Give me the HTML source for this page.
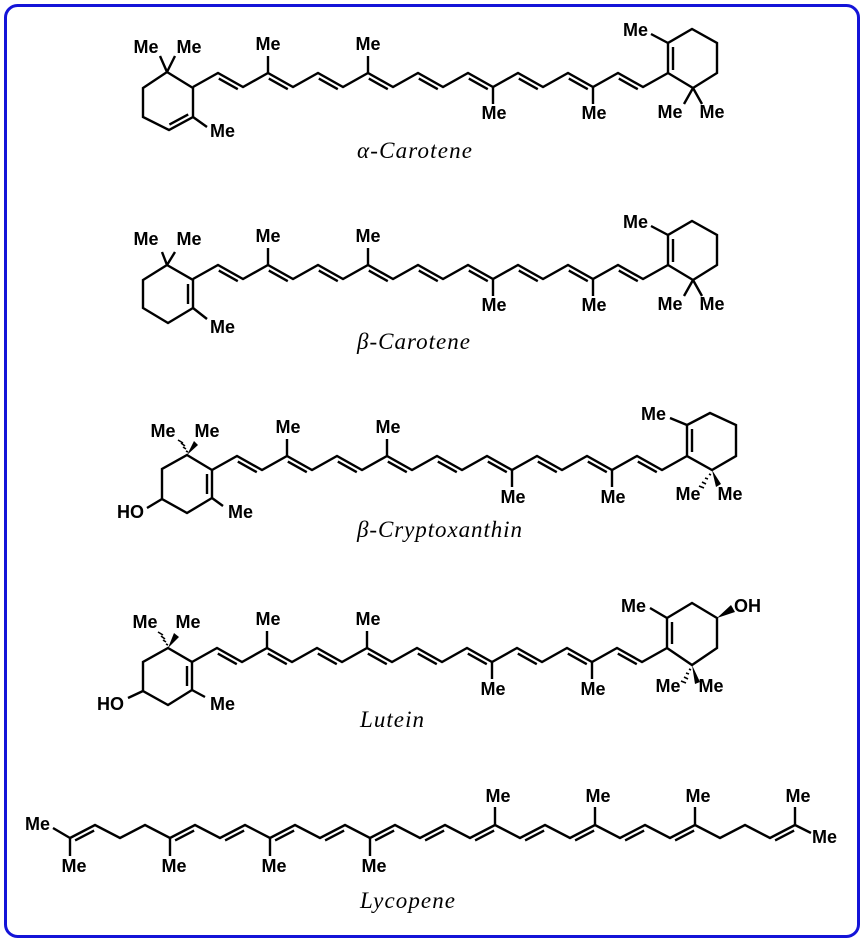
<!DOCTYPE html>
<html><head><meta charset="utf-8"><style>
html,body{margin:0;padding:0;background:#fff;}
svg{display:block;}
.b{fill:none;stroke:#000;stroke-width:2.4;stroke-linejoin:miter;stroke-linecap:butt;}
.t{font-family:"Liberation Sans",Arial,sans-serif;font-weight:bold;font-size:18px;fill:#000;}
.c{font-family:"Liberation Serif","DejaVu Serif",serif;font-style:italic;font-size:23px;fill:#000;}
</style></head><body>
<svg width="864" height="942" viewBox="0 0 864 942" xmlns="http://www.w3.org/2000/svg">
<defs>
<g id="chain">
<polyline class="b" points="0,14 25,0 50,14 75,0 100,14 125,0 150,14 175,0 200,14 225,0 250,14 275,0 300,14 325,0 350,14 375,0 400,14 425,0 450,14 475,0"/>
<path class="b" d="M25.8 5.6L44.8 16.2M75.8 5.6L94.8 16.2M125.8 5.6L144.8 16.2M175.8 5.6L194.8 16.2M225.8 5.6L244.8 16.2M275.8 5.6L294.8 16.2M325.8 5.6L344.8 16.2M375.8 5.6L394.8 16.2M425.8 5.6L444.8 16.2"/>
<path class="b" d="M75 0V-17M175 0V-17M300 14V31M400 14V31"/>
</g>
</defs>
<rect x="5.5" y="5.5" width="853" height="931" rx="12" ry="12" fill="none" stroke="#1414d8" stroke-width="3"/>

<!-- alpha-carotene -->
<use href="#chain" transform="translate(193,73)"/>
<polygon class="b" points="167,72 193,88 193,117 169,130 143,117 143,88"/>
<path class="b" d="M188.2 114.4L169.4 124.6M193 117L207 127M167 72L160 56M167 72L175 56"/>
<polygon class="b" points="668,73 668,43 692,29 717,43 717,73 693,88"/>
<path class="b" d="M673 47V70M668 43L651 34M693 88L684 104M693 88L702 104"/>
<g class="t" text-anchor="middle">
<text x="146" y="53">Me</text><text x="189" y="53">Me</text>
<text x="268" y="50">Me</text><text x="368" y="50">Me</text>
<text x="494" y="119">Me</text><text x="594" y="119">Me</text>
<text x="670" y="118">Me</text><text x="712" y="118">Me</text>
</g>
<text class="t" x="210" y="137">Me</text>
<text class="t" x="648" y="36" text-anchor="end">Me</text>
<text class="c" x="357" y="158" textLength="115">α-Carotene</text>

<!-- beta-carotene -->
<use href="#chain" transform="translate(193,265)"/>
<polygon class="b" points="167,265 193,280 193,308 168,323 143,308 143,280"/>
<path class="b" d="M188 284V304M193 308L207 319M167 265L162 252M167 265L175 252"/>
<polygon class="b" points="668,265 668,235 692,221 717,235 717,265 693,280"/>
<path class="b" d="M673 239V262M668 235L651 226M693 280L684 296M693 280L702 296"/>
<g class="t" text-anchor="middle">
<text x="146" y="245">Me</text><text x="189" y="245">Me</text>
<text x="268" y="242">Me</text><text x="368" y="242">Me</text>
<text x="494" y="311">Me</text><text x="594" y="311">Me</text>
<text x="670" y="310">Me</text><text x="712" y="310">Me</text>
</g>
<text class="t" x="210" y="333">Me</text>
<text class="t" x="648" y="228" text-anchor="end">Me</text>
<text class="c" x="357" y="349" textLength="113">β-Carotene</text>

<!-- beta-cryptoxanthin -->
<use href="#chain" transform="translate(212,456)"/>
<polygon class="b" points="187,455 212,470 212,498 187,513 162,499 162,469"/>
<path class="b" d="M207 474V494M212 498L223 506M162 499L147 508"/>
<path class="b" style="stroke-width:1.6" d="M186 451L188 452M183 447L186 449M181 443L185 446M178 440L183 443"/>
<polygon points="187,455 194,441 198,445" fill="#000"/>
<polygon class="b" points="687,456 687,425 710,413 736,425 736,456 712,470"/>
<path class="b" d="M692 429V452M687 425L670 418"/>
<path class="b" style="stroke-width:1.6" d="M709 474L711 475M705 478L708 479M702 482L706 484M699 486L704 488"/>
<polygon points="712,470 716,487 721,484" fill="#000"/>
<g class="t" text-anchor="middle">
<text x="163" y="437">Me</text><text x="207" y="437">Me</text>
<text x="288" y="433">Me</text><text x="388" y="433">Me</text>
<text x="513" y="503">Me</text><text x="613" y="503">Me</text>
<text x="688" y="500">Me</text><text x="730" y="500">Me</text>
</g>
<text class="t" x="228" y="518">Me</text>
<text class="t" x="144" y="518" text-anchor="end">HO</text>
<text class="t" x="666" y="420" text-anchor="end">Me</text>
<text class="c" x="357" y="537" textLength="165">β-Cryptoxanthin</text>

<!-- lutein -->
<use href="#chain" transform="translate(192,648)"/>
<polygon class="b" points="168,648 192,662 192,690 168,705 143,691 143,662"/>
<path class="b" d="M187 666V686M192 690L205 697M143 691L128 698"/>
<path class="b" style="stroke-width:1.6" d="M166 644L168 645M163 640L166 642M161 636L165 639M158 632L163 635"/>
<polygon points="168,648 174,633 179,637" fill="#000"/>
<polygon class="b" points="667,648 667,618 692,603 717,618 717,648 692,665"/>
<path class="b" d="M672 622V644M667 618L650 608"/>
<polygon points="717,618 731,605 735,612" fill="#000"/>
<path class="b" style="stroke-width:1.6" d="M689 669L691 670M686 673L689 674M684 677L688 679M681 681L686 683"/>
<polygon points="692,665 695,684 700,682" fill="#000"/>
<g class="t" text-anchor="middle">
<text x="145" y="628">Me</text><text x="188" y="628">Me</text>
<text x="268" y="625">Me</text><text x="368" y="625">Me</text>
<text x="493" y="695">Me</text><text x="593" y="695">Me</text>
<text x="668" y="692">Me</text><text x="711" y="692">Me</text>
</g>
<text class="t" x="210" y="710">Me</text>
<text class="t" x="124" y="710" text-anchor="end">HO</text>
<text class="t" x="646" y="612" text-anchor="end">Me</text>
<text class="t" x="734" y="612">OH</text>
<text class="c" x="360" y="727" textLength="64">Lutein</text>

<!-- lycopene -->
<polyline class="b" points="70,838 95,825 120,838 145,825 170,838 195,825 220,838 245,825 270,838 295,825 320,838 345,825 370,838 395,825 420,838 445,825 470,838 495,825 520,838 545,825 570,838 595,825 620,838 645,825 670,838 695,825 720,838 745,825 770,838 795,825"/>
<path class="b" d="M75.1 840.4L94.1 830.6M175.1 840.4L194.1 830.6M225.1 840.4L244.1 830.6M275.1 840.4L294.1 830.6M325.1 840.4L344.1 830.6M375.1 840.4L394.1 830.6M425.1 840.4L444.1 830.6M475.1 840.4L494.1 830.6M525.1 840.4L544.1 830.6M575.1 840.4L594.1 830.6M625.1 840.4L644.1 830.6M675.1 840.4L694.1 830.6M775.1 840.4L794.1 830.6"/>
<path class="b" d="M70 838V856M70 838L53 828M170 838V856M270 838V856M370 838V856M495 825V807M595 825V807M695 825V807M795 825V807M795 825L811 833"/>
<g class="t" text-anchor="middle">
<text x="74" y="872">Me</text><text x="174" y="872">Me</text><text x="274" y="872">Me</text><text x="374" y="872">Me</text>
<text x="498" y="802">Me</text><text x="598" y="802">Me</text><text x="698" y="802">Me</text><text x="798" y="802">Me</text>
</g>
<text class="t" x="50" y="830" text-anchor="end">Me</text>
<text class="t" x="812" y="843">Me</text>
<text class="c" x="360" y="908" textLength="95">Lycopene</text>
</svg>
</body></html>
